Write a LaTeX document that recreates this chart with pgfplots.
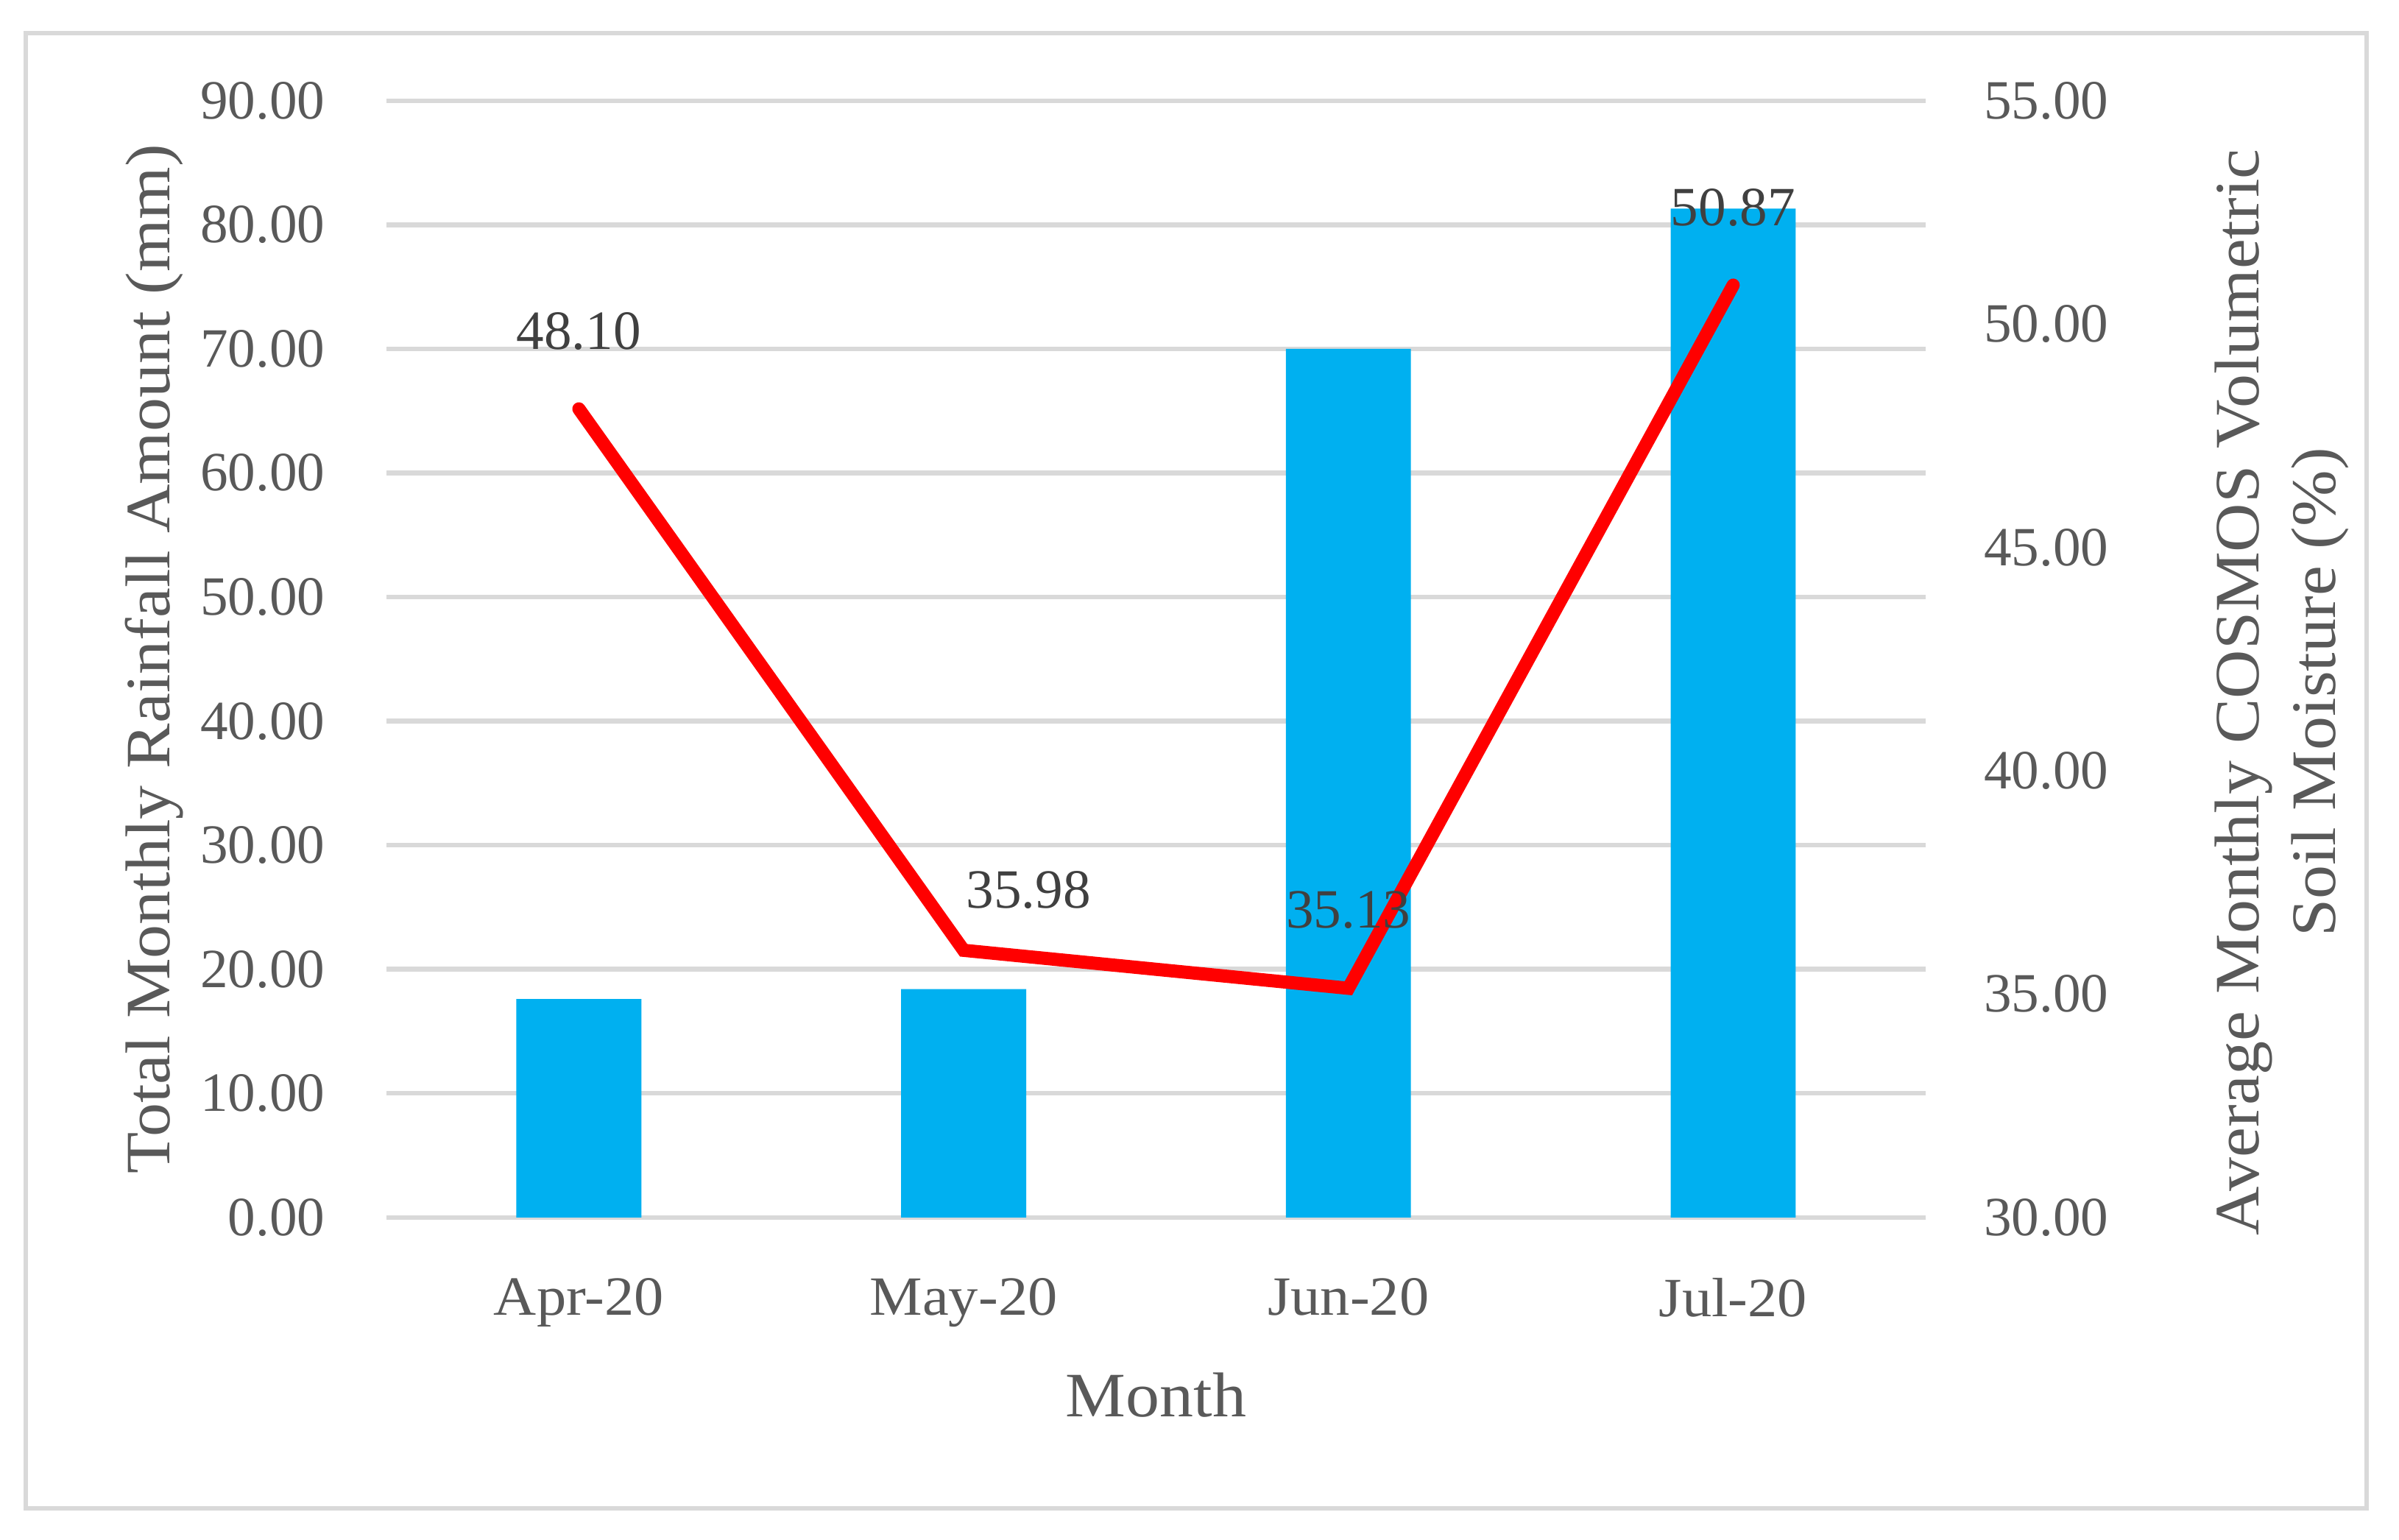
\documentclass[border=0pt]{standalone}
\usepackage{fontspec}
\setmainfont{Liberation Serif}
\newfontfamily\widefont[FakeStretch=1.07]{Liberation Serif}
\usepackage{pgfplots}
\pgfplotsset{compat=1.18}
\usetikzlibrary{calc}
\definecolor{barblue}{HTML}{00B0F0}
\definecolor{gridgray}{HTML}{D9D9D9}
\definecolor{txtgray}{HTML}{595959}
\definecolor{lblgray}{HTML}{404040}
\pgfplotsset{/pgf/number format/assume math mode=true}
\begin{document}
\begin{tikzpicture}
\begin{axis}[
  scale only axis, width=291.9pt, height=211.8pt,
  xmin=-0.5, xmax=3.5, ymin=0, ymax=90, ytick={0,10,...,90},
  xtick={0,1,2,3}, xticklabels={Apr-20,May-20,Jun-20,Jul-20},
  axis line style={draw=none}, major tick length=0pt,
  ymajorgrids, grid style={gridgray, line width=0.9pt},
  tick label style={font=\fontsize{10.5}{12}\selectfont, text=txtgray, inner sep=0pt},
  yticklabel style={anchor=east, xshift=-11.45pt, /pgf/number format/.cd, fixed, fixed zerofill, precision=2},
  xticklabel style={anchor=north, yshift=-11.3pt, font=\widefont\fontsize{10.5}{12}\selectfont},
  label style={font=\widefont\fontsize{12}{14.5}\selectfont, text=txtgray, inner sep=0pt},
  ylabel={Total Monthly Rainfall Amount (mm)},
  ylabel style={at={(axis description cs:-0.1507,0.5)}, anchor=center},
  xlabel={Month},
  xlabel style={at={(axis description cs:0.5,-0.1379)}, anchor=north},
]
\addplot[ybar, bar width=0.325, fill=barblue, draw=none] coordinates {(0,17.6) (1,18.4) (2,70.0) (3,81.3)};
\coordinate (SW) at (rel axis cs:0,0);
\coordinate (NE) at (rel axis cs:1,1);
\end{axis}
\begin{axis}[
  scale only axis, width=291.9pt, height=211.8pt,
  xmin=-0.5, xmax=3.5, ymin=30, ymax=55, ytick={30,35,...,55},
  axis y line*=right, hide x axis,
  axis line style={draw=none}, major tick length=0pt,
  tick label style={font=\fontsize{10.5}{12}\selectfont, text=txtgray, inner sep=0pt},
  yticklabel style={anchor=west, xshift=10.9pt, /pgf/number format/.cd, fixed, fixed zerofill, precision=2},
  label style={font=\widefont\fontsize{12}{14.5}\selectfont, text=txtgray, inner sep=0pt},
  ylabel={Average Monthly COSMOS Volumetric\\Soil Moisture (\%)},
  ylabel style={at={(axis description cs:1.2316,0.4703)}, anchor=center, align=center},
]
\addplot[red, line width=2.5pt, line cap=round, mark=none,
  nodes near coords, point meta=explicit symbolic,
  visualization depends on={value \thisrow{dx}\as\dx},
  visualization depends on={value \thisrow{dy}\as\dy},
  every node near coord/.append style={anchor=center, inner sep=0pt, xshift=\dx pt, yshift=\dy pt, text=lblgray, font=\fontsize{10.5}{12}\selectfont}]
  table[x=x, y=y, meta=lab] {
x y lab dx dy
0 48.10 48.10 0 14.7
1 35.98 35.98 12.3 11.5
2 35.13 35.13 0 14.8
3 50.87 50.87 0 14.7
};
\end{axis}
\draw[gridgray, line width=0.85pt] ($(SW)+(-68.4pt,-55.15pt)$) rectangle ($(NE)+(83.6pt,12.85pt)$);
\pgfresetboundingbox
\path ($(SW)+(-73.3pt,-61.15pt)$) rectangle ($(NE)+(89.8pt,19.1pt)$);
\end{tikzpicture}
\end{document}
